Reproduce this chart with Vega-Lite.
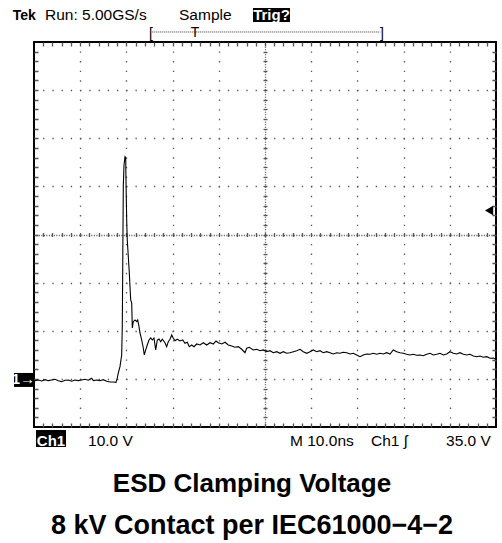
{
 "$schema": "https://vega.github.io/schema/vega-lite/v6.json",
 "width": 462,
 "height": 385,
 "autosize": {"type": "none"},
 "padding": {"left": 34, "top": 42, "right": 6, "bottom": 116},
 "background": "white",
 "config": {
  "view": {"stroke": "black", "strokeWidth": 2},
  "axis": {"labels": false, "ticks": false, "domain": false}
 },
 "title": {
  "text": "ESD Clamping Voltage",
  "subtitle": "8 kV Contact per IEC61000−4−2",
  "orient": "bottom", "frame": "group", "anchor": "middle",
  "offset": 22, "dx": -13,
  "font": "Liberation Sans", "fontSize": 26, "fontWeight": "bold", "color": "black",
  "subtitleFont": "Liberation Sans", "subtitleFontSize": 27, "subtitleFontWeight": "bold", "subtitleColor": "black",
  "subtitlePadding": 16
 },
 "resolve": {"axis": {"x": "independent", "y": "independent"}},
 "datasets": {
  "trace": [
   {"t":0.22,"v":-0.37},{"t":0.93,"v":-0.23},{"t":1.67,"v":-0.44},{"t":2.38,"v":-0.17},{"t":3.10,"v":-0.37},{"t":3.83,"v":-0.23},{"t":4.55,"v":-0.08},{"t":5.26,"v":-0.37},{"t":6.00,"v":-0.58},{"t":6.71,"v":-0.29},{"t":7.42,"v":-0.23},{"t":8.16,"v":-0.50},{"t":8.87,"v":-0.23},{"t":9.59,"v":-0.37},{"t":10.32,"v":-0.23},{"t":11.04,"v":-0.08},{"t":11.75,"v":-0.29},{"t":12.49,"v":0.12},{"t":12.84,"v":-0.37},{"t":13.57,"v":-0.23},{"t":14.29,"v":-0.37},{"t":15.00,"v":-0.17},{"t":15.74,"v":-0.50},{"t":16.45,"v":-0.64},{"t":17.19,"v":-0.64},{"t":17.75,"v":-0.71},
   {"t":18.03,"v":0.19},{"t":18.25,"v":1.23},{"t":18.61,"v":2.54},{"t":18.98,"v":4.97},{"t":19.11,"v":10.85},{"t":19.33,"v":39.94},{"t":19.48,"v":44.45},{"t":19.70,"v":46.17},{"t":19.85,"v":45.90},{"t":19.91,"v":41.33},{"t":20.06,"v":33.02},{"t":20.19,"v":28.86},{"t":20.63,"v":22.01},{"t":20.93,"v":16.40},{"t":21.15,"v":15.77},{"t":21.28,"v":10.58},{"t":21.49,"v":11.89},{"t":21.86,"v":12.24},{"t":22.23,"v":11.89},{"t":22.45,"v":12.24},{"t":22.73,"v":10.85},{"t":22.94,"v":9.54},{"t":23.31,"v":8.08},{"t":23.66,"v":6.42},{"t":23.87,"v":4.97},{"t":24.18,"v":6.01},{"t":24.52,"v":7.04},{"t":24.89,"v":8.08},{"t":25.26,"v":8.50},{"t":25.61,"v":8.08},{"t":25.97,"v":8.50},{"t":26.34,"v":6.01},{"t":26.69,"v":8.08},{"t":27.06,"v":8.29},{"t":27.42,"v":7.73},{"t":27.77,"v":8.23},{"t":28.35,"v":7.52},{"t":28.72,"v":6.69},{"t":29.07,"v":7.73},{"t":29.44,"v":8.23},{"t":29.81,"v":9.12},{"t":30.15,"v":8.44},{"t":30.52,"v":7.94},{"t":31.02,"v":8.23},{"t":31.60,"v":7.88},{"t":32.19,"v":8.08},{"t":32.68,"v":7.40},{"t":33.18,"v":7.61},{"t":33.61,"v":6.69},{"t":34.13,"v":7.04},{"t":34.63,"v":6.69},{"t":35.22,"v":7.25},{"t":35.93,"v":7.04},{"t":36.65,"v":7.52},{"t":37.38,"v":7.04},{"t":38.10,"v":7.52},{"t":38.81,"v":7.25},{"t":39.39,"v":7.88},{"t":39.89,"v":7.52},{"t":40.63,"v":7.25},{"t":41.34,"v":7.61},{"t":42.06,"v":7.04},{"t":42.79,"v":6.84},{"t":43.51,"v":6.57},{"t":44.22,"v":6.69},{"t":44.96,"v":6.15},{"t":45.67,"v":5.44},{"t":46.04,"v":6.36},{"t":46.60,"v":6.57},
   {"t":47.47,"v":6.01},{"t":48.20,"v":6.15},{"t":48.92,"v":5.86},{"t":49.63,"v":6.01},{"t":50.37,"v":5.65},{"t":51.08,"v":5.86},{"t":51.80,"v":5.44},{"t":52.53,"v":5.65},{"t":53.25,"v":5.32},{"t":53.96,"v":5.65},{"t":54.70,"v":5.32},{"t":55.41,"v":5.44},{"t":56.13,"v":5.65},{"t":56.86,"v":5.86},{"t":57.58,"v":6.15},{"t":58.29,"v":5.65},{"t":59.03,"v":5.32},{"t":59.74,"v":5.65},{"t":60.45,"v":6.01},{"t":61.19,"v":5.65},{"t":61.90,"v":5.86},{"t":62.62,"v":5.44},{"t":63.35,"v":5.65},{"t":64.07,"v":5.44},{"t":64.78,"v":5.17},{"t":65.52,"v":5.44},{"t":66.23,"v":5.32},{"t":66.95,"v":5.53},{"t":67.68,"v":5.44},{"t":68.40,"v":5.17},{"t":69.11,"v":5.32},{"t":69.85,"v":4.97},{"t":70.56,"v":4.61},{"t":71.28,"v":4.97},{"t":72.01,"v":5.17},{"t":72.73,"v":5.11},{"t":73.44,"v":5.32},{"t":74.18,"v":5.11},{"t":74.89,"v":5.32},{"t":75.61,"v":5.17},{"t":76.34,"v":5.44},{"t":77.06,"v":5.17},{"t":77.77,"v":6.01},{"t":78.51,"v":5.65},{"t":79.22,"v":5.44},{"t":79.94,"v":5.32},{"t":80.67,"v":5.11},{"t":81.39,"v":4.97},{"t":82.10,"v":5.11},{"t":82.84,"v":4.90},{"t":83.55,"v":4.97},{"t":84.26,"v":4.82},{"t":85.00,"v":5.11},{"t":85.71,"v":5.32},{"t":86.43,"v":4.97},{"t":87.16,"v":5.11},{"t":87.88,"v":5.32},{"t":88.59,"v":4.97},{"t":89.33,"v":5.17},{"t":90.04,"v":5.65},{"t":90.76,"v":5.32},{"t":91.49,"v":5.17},{"t":92.21,"v":5.44},{"t":92.92,"v":5.11},{"t":93.66,"v":4.97},{"t":94.37,"v":5.11},{"t":95.09,"v":4.76},{"t":95.82,"v":4.61},{"t":96.54,"v":4.76},{"t":97.25,"v":4.49},{"t":97.99,"v":4.61},{"t":98.70,"v":4.28},{"t":99.42,"v":4.34},{"t":100.0,"v":4.07}
  ],
  "boxes": [
   {"t":47.4,"t2":55.4,"v":77.07,"v2":74.16},
   {"t":0.43,"t2":6.93,"v":-10.62,"v2":-14.15},
   {"t":-4.33,"t2":-0.22,"v":1.23,"v2":-1.68}
  ],
  "inverseText": [
   {"t":51.4,"v":74.58,"label":"Trig?"},
   {"t":3.68,"v":-13.94,"label":"Ch1"},
   {"t":-2.3,"v":-1.0,"label":"1→"}
  ],
  "plainText": [
   {"t":2.38,"v":74.58,"label":"Run: 5.00GS/s"},
   {"t":31.39,"v":74.58,"label":"Sample"},
   {"t":11.69,"v":-13.94,"label":"10.0 V"},
   {"t":55.41,"v":-13.94,"label":"M 10.0ns"},
   {"t":72.94,"v":-13.94,"label":"Ch1"},
   {"t":80.1,"v":-13.94,"label":"ʃ"},
   {"t":89.18,"v":-13.94,"label":"35.0 V"}
  ],
  "boldText": [
   {"t":-4.61,"v":74.58,"label":"Tek"}
  ],
  "bracketLine": [
   {"t":25.6,"t2":75.0,"v":72.08}
  ],
  "bracketGlyphs": [
   {"t":25.32,"v":70.9,"label":"["},
   {"t":75.32,"v":70.9,"label":"]"},
   {"t":34.85,"v":71.0,"label":"T"}
  ],
  "trigger": [
   {"t":98.5,"v":35}
  ]
 },
 "layer": [
  {
   "data": {"name": "trace"},
   "mark": {"type": "line", "color": "black", "strokeWidth": 1.1, "clip": true},
   "encoding": {
    "x": {"field": "t", "type": "quantitative", "scale": {"domain": [0, 100], "nice": false, "zero": false},
     "axis": {"orient": "bottom", "title": null, "values": [10,20,30,40,50,60,70,80,90], "grid": true, "gridColor": "#555", "gridWidth": 1.3,
      "gridDash": {"condition": {"test": "datum.value === 50", "value": [1, 1.5]}, "value": [1.3, 8.325]}, "gridDashOffset": 0.65}},
    "y": {"field": "v", "type": "quantitative", "scale": {"domain": [-10, 70], "nice": false, "zero": false},
     "axis": {"orient": "left", "title": null, "values": [0,10,20,30,40,50,60], "grid": true, "gridColor": "#555", "gridWidth": 1.3,
      "gridDash": {"condition": {"test": "datum.value === 30", "value": [1, 1.5]}, "value": [1.3, 7.94]}, "gridDashOffset": 0.65}}
   }
  },
  {
   "data": {"name": "trace"},
   "mark": {"type": "point", "opacity": 0},
   "encoding": {
    "x": {"field": "t", "type": "quantitative", "scale": {"domain": [0, 100], "nice": false, "zero": false},
     "axis": {"orient": "bottom", "title": null, "values": [2,4,6,8,10,12,14,16,18,20,22,24,26,28,30,32,34,36,38,40,42,44,46,48,50,52,54,56,58,60,62,64,66,68,70,72,74,76,78,80,82,84,86,88,90,92,94,96,98],
      "grid": true, "gridColor": "#555", "gridWidth": 1.3, "gridDash": [4, 377]}},
    "y": {"field": "v", "type": "quantitative", "scale": {"domain": [-10, 70], "nice": false, "zero": false},
     "axis": {"orient": "left", "title": null, "values": [-8,-6,-4,-2,0,2,4,6,8,10,12,14,16,18,20,22,24,26,28,30,32,34,36,38,40,42,44,46,48,50,52,54,56,58,60,62,64,66,68],
      "grid": true, "gridColor": "#555", "gridWidth": 1.3, "gridDash": [4, 454]}}
   }
  },
  {
   "data": {"name": "trace"},
   "mark": {"type": "point", "opacity": 0},
   "encoding": {
    "x": {"field": "t", "type": "quantitative", "scale": {"domain": [0, 100], "nice": false, "zero": false},
     "axis": {"orient": "top", "title": null, "values": [2,4,6,8,10,12,14,16,18,20,22,24,26,28,30,32,34,36,38,40,42,44,46,48,50,52,54,56,58,60,62,64,66,68,70,72,74,76,78,80,82,84,86,88,90,92,94,96,98],
      "grid": true, "gridColor": "#555", "gridWidth": 1.3, "gridDash": [4, 381], "gridDashOffset": 194.5}},
    "y": {"field": "v", "type": "quantitative", "scale": {"domain": [-10, 70], "nice": false, "zero": false},
     "axis": {"orient": "right", "title": null, "values": [-8,-6,-4,-2,0,2,4,6,8,10,12,14,16,18,20,22,24,26,28,30,32,34,36,38,40,42,44,46,48,50,52,54,56,58,60,62,64,66,68],
      "grid": true, "gridColor": "#555", "gridWidth": 1.3, "gridDash": [4, 458], "gridDashOffset": 233}}
   }
  },
  {
   "data": {"name": "boxes"},
   "mark": {"type": "rect", "color": "black", "clip": false},
   "encoding": {
    "x": {"field": "t", "type": "quantitative", "scale": {"domain": [0, 100], "nice": false, "zero": false}, "axis": null},
    "x2": {"field": "t2"},
    "y": {"field": "v", "type": "quantitative", "scale": {"domain": [-10, 70], "nice": false, "zero": false}, "axis": null},
    "y2": {"field": "v2"}
   }
  },
  {
   "data": {"name": "inverseText"},
   "mark": {"type": "text", "color": "white", "font": "Liberation Sans", "fontSize": 15, "fontWeight": "bold", "align": "center", "baseline": "alphabetic", "clip": false},
   "encoding": {
    "x": {"field": "t", "type": "quantitative", "scale": {"domain": [0, 100], "nice": false, "zero": false}, "axis": null},
    "y": {"field": "v", "type": "quantitative", "scale": {"domain": [-10, 70], "nice": false, "zero": false}, "axis": null},
    "text": {"field": "label"}
   }
  },
  {
   "data": {"name": "plainText"},
   "mark": {"type": "text", "color": "black", "font": "Liberation Sans", "fontSize": 15.5, "align": "left", "baseline": "alphabetic", "clip": false},
   "encoding": {
    "x": {"field": "t", "type": "quantitative", "scale": {"domain": [0, 100], "nice": false, "zero": false}, "axis": null},
    "y": {"field": "v", "type": "quantitative", "scale": {"domain": [-10, 70], "nice": false, "zero": false}, "axis": null},
    "text": {"field": "label"}
   }
  },
  {
   "data": {"name": "boldText"},
   "mark": {"type": "text", "color": "black", "font": "Liberation Sans", "fontSize": 14, "fontWeight": "bold", "align": "left", "baseline": "alphabetic", "clip": false},
   "encoding": {
    "x": {"field": "t", "type": "quantitative", "scale": {"domain": [0, 100], "nice": false, "zero": false}, "axis": null},
    "y": {"field": "v", "type": "quantitative", "scale": {"domain": [-10, 70], "nice": false, "zero": false}, "axis": null},
    "text": {"field": "label"}
   }
  },
  {
   "data": {"name": "bracketLine"},
   "mark": {"type": "rule", "color": "#333", "strokeWidth": 1, "strokeDash": [1, 1], "clip": false},
   "encoding": {
    "x": {"field": "t", "type": "quantitative", "scale": {"domain": [0, 100], "nice": false, "zero": false}, "axis": null},
    "x2": {"field": "t2"},
    "y": {"field": "v", "type": "quantitative", "scale": {"domain": [-10, 70], "nice": false, "zero": false}, "axis": null}
   }
  },
  {
   "data": {"name": "bracketGlyphs"},
   "mark": {"type": "text", "color": "black", "font": "Liberation Sans", "fontSize": 14, "align": "center", "baseline": "alphabetic", "clip": false},
   "encoding": {
    "x": {"field": "t", "type": "quantitative", "scale": {"domain": [0, 100], "nice": false, "zero": false}, "axis": null},
    "y": {"field": "v", "type": "quantitative", "scale": {"domain": [-10, 70], "nice": false, "zero": false}, "axis": null},
    "text": {"field": "label"}
   }
  },
  {
   "data": {"name": "trigger"},
   "mark": {"type": "point", "shape": "triangle-left", "filled": true, "color": "black", "opacity": 1, "size": 90, "clip": false},
   "encoding": {
    "x": {"field": "t", "type": "quantitative", "scale": {"domain": [0, 100], "nice": false, "zero": false}, "axis": null},
    "y": {"field": "v", "type": "quantitative", "scale": {"domain": [-10, 70], "nice": false, "zero": false}, "axis": null}
   }
  }
 ]
}
